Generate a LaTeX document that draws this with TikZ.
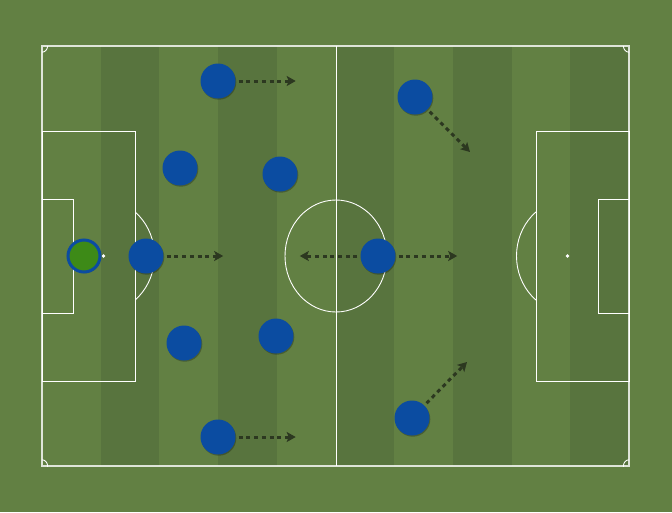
\documentclass[tikz,border=0pt]{standalone}
\usetikzlibrary{positioning}
\usetikzlibrary{arrows.meta, shadows}

\definecolor{grass}{RGB}{98,128,67}
\definecolor{grassdark}{RGB}{88,116,62}
\definecolor{kit}{RGB}{11,76,161}
\definecolor{keeperkit}{RGB}{61,138,23}
\definecolor{runcol}{RGB}{44,56,32}

\tikzset{
	player/.style={circle, fill=kit, minimum size=35pt, inner sep=0pt, drop shadow={shadow xshift=0.8pt, shadow yshift=-1.2pt, opacity=0.25, fill=black}},
	keeper/.style={player, fill=keeperkit, draw=kit, line width=3pt, minimum size=32pt},
	run/.style={draw=runcol, line width=3pt, dash pattern=on 4pt off 3.7pt, -{Stealth[length=9pt, width=10pt, inset=2pt]}, shorten <=3pt},
	pitchline/.style={draw=white, line width=0.9pt},
}

\begin{document}
\begin{tikzpicture}[x=1pt, y=-1pt]

	\useasboundingbox (0,0) rectangle (672,512);
	\fill[grass] (0,0) rectangle (672,512);

	% stripes
	\foreach \i in {1,3,5,7,9}
		\fill[grassdark] ({42+\i*58.7},46) rectangle ({42+(\i+1)*58.7},466);

	% pitch markings
	\path[pitchline, draw opacity=0.8, line width=1.3pt] (42,46) rectangle (629,466);
	\path[pitchline] (336,46) -- (336,466);
	\path[pitchline] (336,256) ellipse [x radius=51, y radius=56];

	\path[pitchline] (42,131) rectangle (135,381);
	\path[pitchline] (42,199) rectangle (73,313);
	\path[pitchline] (536,131) rectangle (629,381);
	\path[pitchline] (598,199) rectangle (629,313);

	\fill[white] (103.5,256) circle (1.8);
	\fill[white] (567.5,256) circle (1.8);

	\begin{scope}
		\clip (135,46) rectangle (336,466);
		\path[pitchline] (103.5,256) ellipse [x radius=51, y radius=56];
	\end{scope}
	\begin{scope}
		\clip (336,46) rectangle (536,466);
		\path[pitchline] (567.5,256) ellipse [x radius=51, y radius=56];
	\end{scope}
	\begin{scope}
		\clip (42,46) rectangle (629,466);
		\foreach \cx/\cy in {42/46, 629/46, 42/466, 629/466}
			\path[pitchline] (\cx,\cy) ellipse [x radius=5.6, y radius=6.2];
	\end{scope}

	% players
	\node (gk) [keeper] at (84,256) {};
	\node (sw) [player] at (146,256) {};
	\node (dl) [player] at (180,168) {};
	\node (dr) [player] at (184,343) {};
	\node (wl) [player] at (218,81) {};
	\node (wr) [player] at (218,437) {};
	\node (ml) [player] at (280,174) {};
	\node (mr) [player] at (276,336) {};
	\node (cf) [player] at (378,256) {};
	\node (fl) [player] at (415,97) {};
	\node (fr) [player] at (412,418) {};

	% runs
	\node (wl_to) [coordinate, right=60pt of wl] {};
	\node (sw_to) [coordinate, right=59.5pt of sw] {};
	\node (wr_to) [coordinate, right=60pt of wr] {};
	\node (cf_fwd) [coordinate, right=61.5pt of cf] {};
	\node (cf_back) [coordinate, left=60.5pt of cf] {};
	\coordinate (fl_to) at (470,152);
	\coordinate (fr_to) at (467,362);

	\path[run] (wl) -- (wl_to);
	\path[run] (sw) -- (sw_to);
	\path[run] (wr) -- (wr_to);
	\path[run] (cf) -- (cf_fwd);
	\path[run] (cf) -- (cf_back);
	\path[run] (fl) -- (fl_to);
	\path[run] (fr) -- (fr_to);

\end{tikzpicture}
\end{document}
